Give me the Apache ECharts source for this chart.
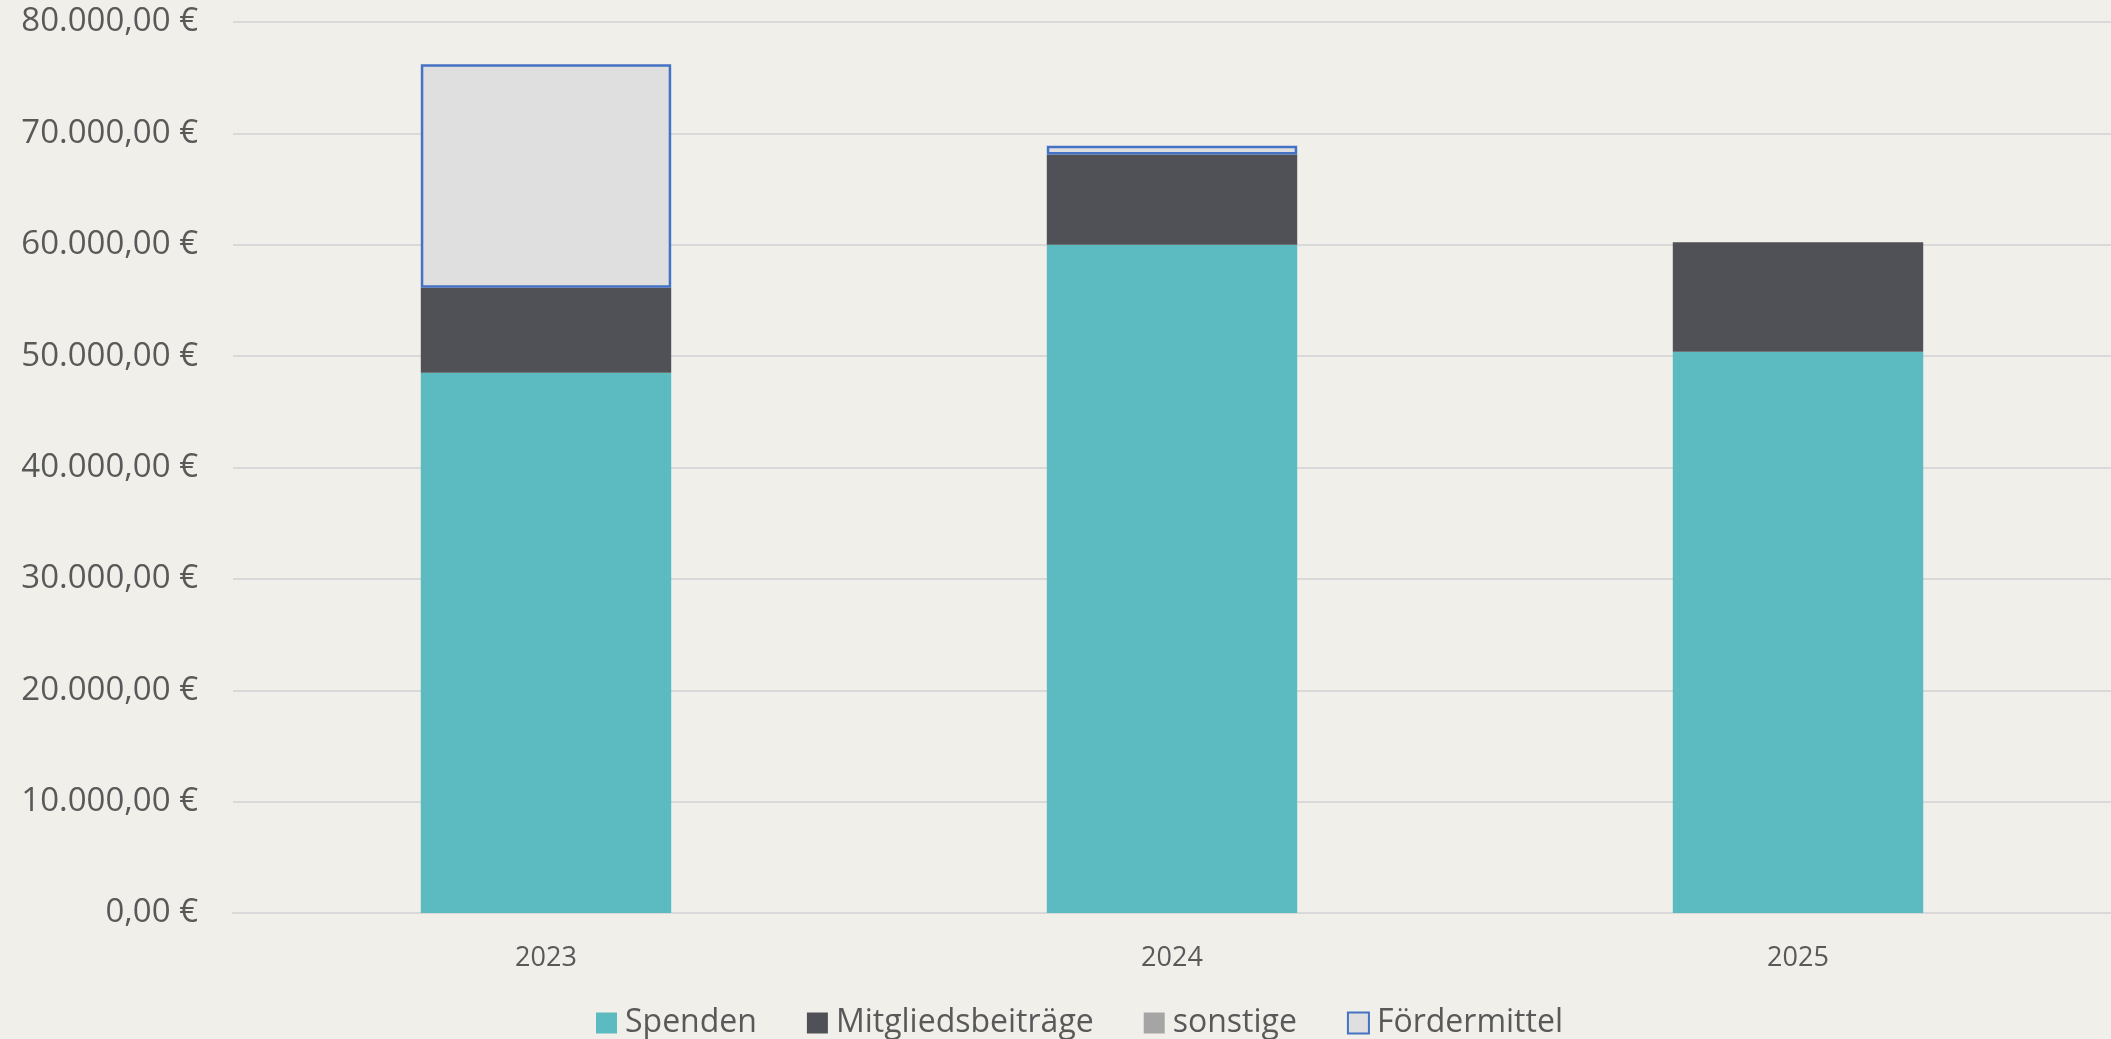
<!DOCTYPE html>
<html>
<head>
<meta charset="utf-8">
<script src="https://cdn.jsdelivr.net/npm/echarts@6/dist/echarts.min.js"></script>
<style>
  html, body { margin: 0; padding: 0; background: #F0EFEA; }
  #chart { width: 2111px; height: 1039px; }
</style>
</head>
<body>
<div id="chart"></div>
<script>
// Einnahmen nach Jahr
var years = ["2023", "2024", "2025"];
var spenden = [48500, 60000, 50400];
var mitglieder = [7650, 8100, 9830];
var sonstige = ["-", "-", "-"];
var foerdermittel = [20050, 800, "-"];

// 80000 -> "80.000,00 €"
function euro(v) {
  var s = Math.round(v).toString().replace(/\B(?=(\d{3})+(?!\d))/g, ".");
  return s + ",00 €";
}

var chart = echarts.init(document.getElementById("chart"));
var font = "'Open Sans', sans-serif";

chart.setOption({
  backgroundColor: "#F0EFEA",
  animation: false,
  grid: {
    left: 233,
    right: 0,
    top: 22,
    bottom: 126
  },
  legend: {
    top: 1002,
    left: 591,
    icon: "rect",
    itemWidth: 21,
    itemHeight: 21,
    itemGap: 50,
    textStyle: {
      fontFamily: font,
      fontSize: 32,
      color: "#595959",
      padding: [0, 0, 0, 3]
    },
    data: ["Spenden", "Mitgliedsbeiträge", "sonstige", "Fördermittel"]
  },
  xAxis: {
    type: "category",
    data: years,
    axisTick: { show: false },
    axisLine: { lineStyle: { color: "#D9D9D9", width: 2 } },
    axisLabel: {
      margin: 32,
      fontFamily: font,
      fontSize: 27,
      color: "#595959"
    }
  },
  yAxis: {
    type: "value",
    min: 0,
    max: 80000,
    interval: 10000,
    axisLine: { show: false },
    axisTick: { show: false },
    splitLine: { lineStyle: { color: "#D9D9D9", width: 2 } },
    axisLabel: {
      margin: 35,
      fontFamily: font,
      fontSize: 33,
      color: "#595959",
      formatter: euro
    }
  },
  series: [
    {
      name: "Spenden",
      type: "bar",
      stack: "total",
      barWidth: "40%",
      itemStyle: { color: "#5BBBC1" },
      data: spenden
    },
    {
      name: "Mitgliedsbeiträge",
      type: "bar",
      stack: "total",
      itemStyle: { color: "#505156" },
      data: mitglieder
    },
    {
      name: "sonstige",
      type: "bar",
      stack: "total",
      itemStyle: { color: "#A5A5A5" },
      data: sonstige
    },
    {
      name: "Fördermittel",
      type: "bar",
      stack: "total",
      itemStyle: { color: "#DFDFDF", borderColor: "#4472C4", borderWidth: 2.5 },
      data: foerdermittel
    }
  ]
});
</script>
</body>
</html>
